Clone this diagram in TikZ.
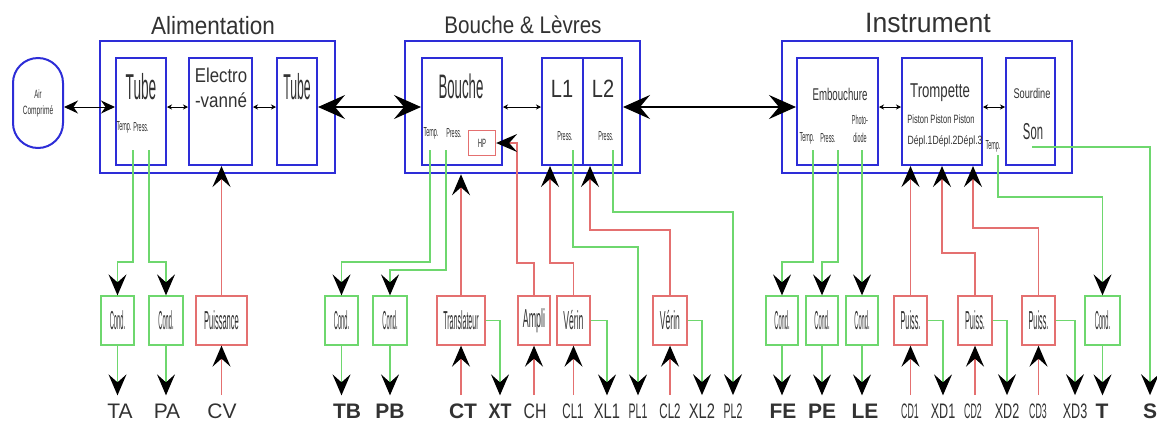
\documentclass[tikz,border=0pt]{standalone}
\usepackage{fontspec}
\setmainfont{Liberation Sans}
\usepackage{graphicx}
\usetikzlibrary{arrows.meta, positioning}
\definecolor{boxblue}{RGB}{45,45,215}
\definecolor{sgreen}{RGB}{110,215,110}
\definecolor{sred}{RGB}{228,112,112}
\definecolor{ink}{RGB}{50,50,50}
\newcommand{\sq}[2]{\scalebox{#1}[1]{#2}}
\newcommand{\fs}[1]{\fontsize{#1}{#1}\selectfont}
\tikzset{
    grp/.style={draw=boxblue, line width=2.6pt, minimum height=132},
    blk/.style={draw=boxblue, line width=2pt, minimum height=107},
    txt/.style={text=ink, inner sep=0pt},
    ttl/.style={txt, font=\fs{25}},
    small/.style={txt, font=\fs{13}},
    cnd/.style={draw=sgreen, line width=1.3pt, minimum width=33, minimum height=49, text=ink, inner sep=0pt, font=\fs{26}},
    pwr/.style={cnd, draw=sred},
    sig/.style={draw=sgreen, line width=1.6pt, -{Stealth[color=black, length=21pt, width=18pt, inset=8pt]}},
    cmd/.style={sig, draw=sred},
    lnk/.style={black, line width=0.6pt, {Stealth[length=5pt, width=5pt]}-{Stealth[length=5pt, width=5pt]}},
    airarr/.style={black, line width=1pt, {Stealth[length=14pt, width=13pt]}-{Stealth[length=14pt, width=13pt]}},
    bigarr/.style={black, line width=1.6pt, {Stealth[length=27pt, width=24pt, inset=10pt]}-{Stealth[length=27pt, width=24pt, inset=10pt]}},
    lbl/.style={text=ink, anchor=base, inner xsep=0pt, inner ysep=8pt, font=\fs{21}}
}

\begin{document}
\begin{tikzpicture}[x=1pt, y=-1pt]
    \useasboundingbox (0,0) rectangle (1157,424);
    \coordinate (mid) at (0,107);

    % Source d'air
    \node[draw=boxblue, line width=2pt, rounded corners=25pt, minimum width=50, minimum height=90, inner sep=0pt, text=ink, align=center, font=\fs{12}] (air) at (38,103) {\sq{0.5}{Air}\\[4pt]\sq{0.55}{Comprimé}};

    % Alimentation
    \node[grp, minimum width=235] (alim) at (217.5,107) {};
    \node[ttl] (alimttl) at (213,26) {\sq{0.9}{Alimentation}};
    \node[blk, minimum width=50] (tube1) at (141,111.5) {};
    \node[txt, font=\fs{36}] (tube1txt) at (141,87) {\sq{0.38}{Tube}};
    \node[small] (t1temp) at (124,127) {\sq{0.42}{Temp.}};
    \node[small] (t1press) at (141,127) {\sq{0.42}{Press.}};
    \node[blk, minimum width=63] (ev) at (220.5,111.5) {};
    \node[txt, font=\fs{20}] (evtxt1) at (221,75) {\sq{0.84}{Electro}};
    \node[txt, font=\fs{20}] (evtxt2) at (221,100) {\sq{0.85}{-vanné}};
    \node[blk, minimum width=40] (tube2) at (297,111.5) {};
    \node[txt, font=\fs{36}] (tube2txt) at (297,87) {\sq{0.34}{Tube}};

    % Bouche & Levres
    \node[grp, minimum width=235] (bl) at (522.5,107) {};
    \node[ttl, font=\fs{24}] (blttl) at (523,25) {\sq{0.86}{Bouche \& Lèvres}};
    \node[blk, minimum width=80] (bouche) at (462,111.5) {};
    \node[txt, font=\fs{34}] (bouchetxt) at (461,86) {\sq{0.39}{Bouche}};
    \node[small] (btemp) at (431,133) {\sq{0.42}{Temp.}};
    \node[small] (bpress) at (454,133) {\sq{0.42}{Press.}};
    \node[draw=sred, line width=1.3pt, minimum width=27, minimum height=25, txt, font=\fs{12}] (hp) at (482,143) {\sq{0.5}{HP}};
    \node[blk, minimum width=41] (l1) at (562.5,111.5) {};
    \node[txt, font=\fs{25}] (l1txt) at (562,89) {\sq{0.8}{L1}};
    \node[small] (l1press) at (565,136) {\sq{0.42}{Press.}};
    \node[blk, minimum width=39] (l2) at (602.5,111.5) {};
    \node[txt, font=\fs{25}] (l2txt) at (603,89) {\sq{0.8}{L2}};
    \node[small] (l2press) at (606,136) {\sq{0.42}{Press.}};

    % Instrument
    \node[grp, minimum width=290] (inst) at (927,107) {};
    \node[ttl, font=\fs{28}] (instttl) at (928,23) {\sq{0.95}{Instrument}};
    \node[blk, minimum width=81] (emb) at (837.5,111.5) {};
    \node[txt, font=\fs{17}] (embtxt) at (840,94) {\sq{0.57}{Embouchure}};
    \node[small] (etemp) at (807,138) {\sq{0.42}{Temp.}};
    \node[small] (epress) at (828,138) {\sq{0.42}{Press.}};
    \node[small] (ephoto) at (860,120) {\sq{0.42}{Photo-}};
    \node[small] (ediode) at (860,138) {\sq{0.42}{diode}};
    \node[blk, minimum width=80] (tromp) at (942,111.5) {};
    \node[txt, font=\fs{20}] (tromptxt) at (940,93) {\sq{0.66}{Trompette}};
    \node[txt, font=\fs{12}] (piston) at (941,119) {\sq{0.63}{Piston Piston Piston}};
    \node[txt, font=\fs{12}] (depl) at (945,141) {\sq{0.72}{Dépl.1Dépl.2Dépl.3}};
    \node[small] (ttemp) at (993,146) {\sq{0.42}{Temp.}};
    \node[blk, minimum width=49] (sourd) at (1030.5,111.5) {};
    \node[txt, font=\fs{14}] (sourdtxt) at (1032,93) {\sq{0.66}{Sourdine}};
    \node[txt, font=\fs{23}] (sontxt) at (1033,132) {\sq{0.49}{Son}};

    % Liaisons internes
    \draw[airarr] (air.east |- mid) -- (tube1.west |- mid);
    \draw[lnk] (tube1.east |- mid) -- (ev.west |- mid);
    \draw[lnk] (ev.east |- mid) -- (tube2.west |- mid);
    \draw[bigarr] (tube2.east |- mid) -- (bouche.west |- mid);
    \draw[lnk] (bouche.east |- mid) -- (l1.west |- mid);
    \draw[bigarr] (l2.east |- mid) -- (emb.west |- mid);
    \draw[lnk] (emb.east |- mid) -- (tromp.west |- mid);
    \draw[lnk] (tromp.east |- mid) -- (sourd.west |- mid);

    % Points de mesure
    \coordinate (t1t) at (133,150);
    \coordinate (t1p) at (149,150);
    \coordinate (bt) at (430,150);
    \coordinate (bp) at (446,150);
    \coordinate (l1p) at (573,150);
    \coordinate (l2p) at (613,150);
    \coordinate (et) at (813,150);
    \coordinate (ep) at (838,150);
    \coordinate (ed) at (862,150);
    \coordinate (tt) at (998,155);
    \coordinate (son) at (1032,147);

    % Modules du bas
    \node[cnd] (condTA) at (117.5,320.5) {\sq{0.22}{Cond.}};
    \node[cnd, minimum width=34] (condPA) at (166,320.5) {\sq{0.22}{Cond.}};
    \node[pwr, minimum width=51] (puis) at (221.5,320.5) {\sq{0.29}{Puissance}};
    \node[cnd] (condTB) at (341.5,320.5) {\sq{0.22}{Cond.}};
    \node[cnd, minimum width=34] (condPB) at (390,320.5) {\sq{0.22}{Cond.}};
    \node[pwr, minimum width=48] (trans) at (461,320.5) {\sq{0.27}{Translateur}};
    \node[pwr, minimum width=32] (ampli) at (534,320.5) {\sq{0.34}{Ampli}};
    \node[pwr] (verin1) at (573.5,320.5) {\sq{0.33}{Vérin}};
    \node[pwr, minimum width=34] (verin2) at (670,320.5) {\sq{0.33}{Vérin}};
    \node[cnd, minimum width=32] (condFE) at (782,320.5) {\sq{0.22}{Cond.}};
    \node[cnd, minimum width=32] (condPE) at (822,320.5) {\sq{0.22}{Cond.}};
    \node[cnd, minimum width=32] (condLE) at (862,320.5) {\sq{0.22}{Cond.}};
    \node[pwr] (puiss1) at (910.5,320.5) {\sq{0.28}{Puiss.}};
    \node[pwr, minimum width=34] (puiss2) at (975,320.5) {\sq{0.28}{Puiss.}};
    \node[pwr] (puiss3) at (1038.5,320.5) {\sq{0.28}{Puiss.}};
    \node[cnd, minimum width=35] (condT) at (1102.5,320.5) {\sq{0.22}{Cond.}};

    % Etiquettes
    \node[lbl] (labTA) at (120,418) {TA};
    \node[lbl] (labPA) at (167,418) {PA};
    \node[lbl] (labCV) at (222,418) {CV};
    \node[lbl] (labTB) at (347,418) {\textbf{TB}};
    \node[lbl] (labPB) at (390,418) {\textbf{PB}};
    \node[lbl] (labCT) at (463,418) {\textbf{CT}};
    \node[lbl] (labXT) at (500,418) {\textbf{\sq{0.85}{XT}}};
    \node[lbl] (labCH) at (535,418) {\sq{0.75}{CH}};
    \node[lbl] (labCL1) at (573,418) {\sq{0.55}{CL1}};
    \node[lbl] (labXL1) at (607,418) {\sq{0.7}{XL1}};
    \node[lbl] (labPL1) at (638,418) {\sq{0.5}{PL1}};
    \node[lbl] (labCL2) at (670,418) {\sq{0.55}{CL2}};
    \node[lbl] (labXL2) at (702,418) {\sq{0.7}{XL2}};
    \node[lbl] (labPL2) at (733,418) {\sq{0.5}{PL2}};
    \node[lbl] (labFE) at (783,418) {\textbf{FE}};
    \node[lbl] (labPE) at (822,418) {\textbf{PE}};
    \node[lbl] (labLE) at (865,418) {\textbf{LE}};
    \node[lbl] (labCD1) at (910,418) {\sq{0.42}{CD1}};
    \node[lbl] (labXD1) at (943,418) {\sq{0.6}{XD1}};
    \node[lbl] (labCD2) at (973,418) {\sq{0.42}{CD2}};
    \node[lbl] (labXD2) at (1007,418) {\sq{0.6}{XD2}};
    \node[lbl] (labCD3) at (1038,418) {\sq{0.42}{CD3}};
    \node[lbl] (labXD3) at (1075,418) {\sq{0.6}{XD3}};
    \node[lbl] (labT) at (1102,418) {\textbf{T}};
    \node[lbl] (labS) at (1150,418) {\textbf{S}};

    % Alimentation: mesures et commande
    \draw[sig] (t1t) -- ++(0,112) -| (condTA.north);
    \draw[sig] (t1p) -- ++(0,112) -| (condPA.north);
    \draw[sig] (condTA.south) -- (condTA.south |- labTA.north);
    \draw[sig] (condPA.south) -- (condPA.south |- labPA.north);
    \draw[cmd] (puis.south |- labCV.north) -- (puis.south);
    \draw[cmd] (puis.north) -- (puis.north |- ev.south);

    % Bouche & Levres: mesures et commandes
    \draw[sig] (bt) -- ++(0,112) -| (condTB.north);
    \draw[sig] (bp) -- ++(0,120) -| (condPB.north);
    \draw[sig] (condTB.south) -- (condTB.south |- labTB.north);
    \draw[sig] (condPB.south) -- (condPB.south |- labPB.north);
    \draw[cmd] (trans.south |- labCT.north) -- (trans.south);
    \draw[cmd] (trans.north) -- (trans.north |- bl.south);
    \draw[sig] (trans.east) -| (labXT.north);
    \draw[cmd] (ampli.south |- labCH.north) -- (ampli.south);
    \draw[cmd] (ampli.north) |- (517,263) |- (hp.east);
    \draw[cmd] (verin1.south |- labCL1.north) -- (verin1.south);
    \draw[cmd] (verin1.north) |- (550,263) -- (l1.south -| 550,0);
    \draw[sig] (verin1.east) -| (labXL1.north);
    \draw[sig] (l1p) -- ++(0,97) -| (labPL1.north);
    \draw[cmd] (verin2.south |- labCL2.north) -- (verin2.south);
    \draw[cmd] (verin2.north) |- (590,230) -- (l2.south -| 590,0);
    \draw[sig] (verin2.east) -| (labXL2.north);
    \draw[sig] (l2p) -- ++(0,62) -| (labPL2.north);

    % Instrument: mesures et commandes
    \draw[sig] (et) -- ++(0,112) -| (condFE.north);
    \draw[sig] (ep) -- ++(0,112) -| (condPE.north);
    \draw[sig] (ed) -- (condLE.north);
    \draw[sig] (condFE.south) -- (condFE.south |- labFE.north);
    \draw[sig] (condPE.south) -- (condPE.south |- labPE.north);
    \draw[sig] (condLE.south) -- (condLE.south |- labLE.north);
    \draw[cmd] (puiss1.south |- labCD1.north) -- (puiss1.south);
    \draw[cmd] (puiss1.north) -- (puiss1.north |- tromp.south);
    \draw[sig] (puiss1.east) -| (labXD1.north);
    \draw[cmd] (puiss2.south |- labCD2.north) -- (puiss2.south);
    \draw[cmd] (puiss2.north) |- (tromp.south |- 0,253) -- (tromp.south);
    \draw[sig] (puiss2.east) -| (labXD2.north);
    \draw[cmd] (puiss3.south |- labCD3.north) -- (puiss3.south);
    \draw[cmd] (puiss3.north) |- (973,228) -- (tromp.south -| 973,0);
    \draw[sig] (puiss3.east) -| (labXD3.north);
    \draw[sig] (tt) -- ++(0,42) -| (condT.north);
    \draw[sig] (condT.south) -- (condT.south |- labT.north);
    \draw[sig] (son) -| (labS.north);
\end{tikzpicture}
\end{document}
